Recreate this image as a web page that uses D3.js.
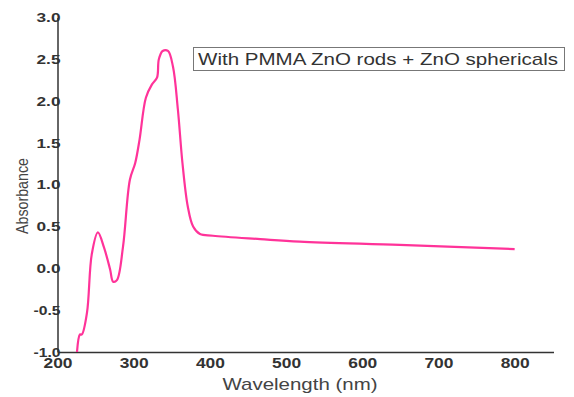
<!DOCTYPE html>
<html><head><meta charset="utf-8">
<script src="https://cdn.jsdelivr.net/npm/d3@7"></script>
<style>body{margin:0;background:#fff}svg{display:block}text{font-family:"Liberation Sans",Arial,sans-serif}</style>
</head><body>
<script>
const wavelength = [225.6,229.5,232,238.7,245,253,261,269,273,278,286,295,302,307.7,316,324,330.6,333,338,345,351.6,358,364,371,378,387,404,466,518,649,800];
const absorbance = [-1.0,-0.79,-0.79,-0.53,0.17,0.43,0.25,-0.01,-0.16,-0.14,0.26,1.06,1.26,1.54,2.04,2.2,2.28,2.5,2.6,2.6,2.41,1.9,1.26,0.74,0.5,0.41,0.39,0.35,0.32,0.28,0.23];
const xTicks = [200,300,400,500,600,700,800];
const yTicks = [-1.0,-0.5,0.0,0.5,1.0,1.5,2.0,2.5,3.0];
const legendLabel = "With PMMA ZnO rods + ZnO sphericals";

const W=574,H=397;
const svg=d3.select("body").append("svg").attr("width",W).attr("height",H);
const x=d3.scaleLinear().domain([200,851]).range([57.5,553.5]);
const y=d3.scaleLinear().domain([-1,3]).range([352,17.5]);

const xa=svg.append("g").attr("transform","translate(0,352)")
  .call(d3.axisBottom(x).tickValues(xTicks).tickSize(0).tickPadding(5).tickFormat(d3.format("d")));
xa.select(".domain").attr("stroke","#333").attr("stroke-width",1.5);
xa.selectAll("text").attr("font-size",15).attr("font-weight","bold").attr("fill","#333")
  .attr("textLength",29).attr("lengthAdjust","spacingAndGlyphs");

const yfmt=d=>d.toFixed(1);
const ya=svg.append("g").attr("transform","translate(57.5,0)")
  .call(d3.axisLeft(y).tickValues(yTicks).tickSize(0).tickPadding(-3).tickFormat(yfmt));
ya.select(".domain").attr("stroke","#333").attr("stroke-width",1.5);
ya.selectAll("text").attr("font-size",13).attr("font-weight","bold").attr("fill","#333")
  .attr("textLength",d=>d<0?27:24).attr("lengthAdjust","spacingAndGlyphs");

const pts=wavelength.map((w,i)=>[w,absorbance[i]]);
svg.append("path").datum(pts)
  .attr("fill","none").attr("stroke","#ff3399").attr("stroke-width",2.2).attr("stroke-linejoin","round")
  .attr("d",d3.line().x(d=>x(d[0])).y(d=>y(d[1])).curve(d3.curveCatmullRom.alpha(0.5)));

svg.append("text").attr("transform","translate(28,196) rotate(-90)").attr("text-anchor","middle")
  .attr("font-size",17).attr("fill","#444").attr("textLength",76).attr("lengthAdjust","spacingAndGlyphs").text("Absorbance");
svg.append("text").attr("x",300).attr("y",390).attr("text-anchor","middle")
  .attr("font-size",17).attr("fill","#444").attr("textLength",155).attr("lengthAdjust","spacingAndGlyphs").text("Wavelength (nm)");

svg.append("rect").attr("x",193.5).attr("y",47.5).attr("width",371).attr("height",23)
  .attr("fill","#fff").attr("stroke","#777").attr("stroke-width",1);
svg.append("text").attr("x",198).attr("y",65).attr("font-size",17).attr("fill","#333")
  .attr("textLength",360).attr("lengthAdjust","spacingAndGlyphs").text(legendLabel);
</script>
</body></html>
